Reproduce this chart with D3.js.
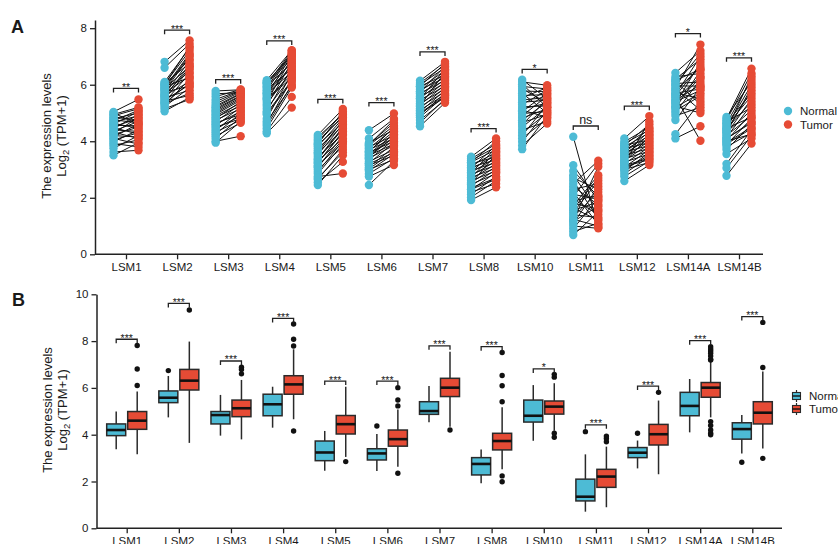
<!DOCTYPE html>
<html>
<head>
<meta charset="utf-8">
<script src="https://cdn.jsdelivr.net/npm/d3@7"></script>
<style>
  body { margin: 0; background: #fff; }
  svg { display: block; }
  text { font-family: "Liberation Sans", Arial, Helvetica, sans-serif; fill: #1a1a1a; }
</style>
</head>
<body>
<svg id="chart" width="838" height="544"></svg>
<script>
// ---- categories ----
const genes = ["LSM1","LSM2","LSM3","LSM4","LSM5","LSM6","LSM7","LSM8","LSM10","LSM11","LSM12","LSM14A","LSM14B"];
const groups = ["Normal", "Tumor"];

// ---- paired samples, log2(TPM+1) (panel A) ----
const pairedNormal = [
  [3.50,3.62,3.75,3.85,3.92,3.98,4.05,4.10,4.15,4.20,4.24,4.28,4.32,4.36,4.40,4.44,4.48,4.52,4.56,4.60,4.64,4.68,4.72,4.76,4.80,4.85,4.90,4.95,5.00,5.04],
  [5.06,5.15,5.22,5.28,5.33,5.38,5.42,5.46,5.50,5.54,5.58,5.62,5.66,5.70,5.74,5.78,5.82,5.86,5.90,5.94,5.98,6.02,6.06,6.10,5.35,5.60,5.85,6.00,6.60,6.81],
  [3.95,4.00,4.10,4.18,4.25,4.32,4.38,4.44,4.50,4.55,4.60,4.65,4.70,4.75,4.80,4.85,4.90,4.95,5.00,5.05,5.10,5.15,5.20,5.25,5.32,5.40,5.48,5.58,5.68,5.78],
  [4.28,4.35,4.45,4.55,4.62,4.70,4.80,4.95,5.05,5.15,5.25,5.32,5.40,5.48,5.55,5.62,5.68,5.74,5.80,5.85,5.90,5.95,6.00,6.05,6.10,6.16,5.00,5.50,5.70,6.08],
  [2.45,2.55,2.65,2.75,2.85,2.92,3.00,3.08,3.15,3.22,3.30,3.38,3.45,3.52,3.60,3.68,3.75,3.82,3.88,3.95,4.02,4.08,4.15,4.22,3.10,3.35,3.58,3.90,2.70,3.25],
  [2.45,2.75,2.85,2.95,3.02,3.08,3.15,3.22,3.28,3.35,3.40,3.45,3.50,3.55,3.60,3.65,3.70,3.75,3.80,3.85,3.90,3.95,4.10,4.39,3.20,3.42,3.62,3.88,3.00,3.52],
  [4.53,4.65,4.75,4.85,4.92,4.98,5.04,5.10,5.16,5.22,5.28,5.34,5.40,5.46,5.52,5.58,5.64,5.70,5.76,5.82,5.88,5.94,6.00,6.06,6.14,5.00,5.25,5.50,5.75,5.95],
  [1.92,2.02,2.12,2.20,2.28,2.35,2.42,2.48,2.54,2.60,2.66,2.72,2.78,2.84,2.90,2.96,3.02,3.08,3.14,3.20,3.26,3.32,3.38,3.45,2.30,2.50,2.70,2.88,3.05,3.25],
  [3.72,3.85,3.98,4.10,4.20,4.30,4.40,4.50,4.58,4.66,4.74,4.82,4.90,4.98,5.06,5.14,5.22,5.30,5.38,5.46,5.54,5.62,5.70,5.78,5.86,5.94,6.02,6.10,6.18,5.10],
  [0.68,0.80,0.90,1.00,1.08,1.16,1.24,1.32,1.40,1.48,1.56,1.64,1.72,1.80,1.88,1.96,2.04,2.12,2.20,2.30,2.40,2.50,2.60,2.70,2.80,2.95,3.15,1.20,1.60,4.16],
  [2.59,2.75,2.85,2.95,3.02,3.08,3.14,3.20,3.26,3.32,3.38,3.44,3.50,3.56,3.62,3.68,3.74,3.80,3.86,3.92,3.98,4.10,3.10,3.30,3.46,3.58,3.70,3.84,3.00,3.22],
  [4.10,4.25,4.75,4.90,5.00,5.08,5.16,5.24,5.32,5.40,5.48,5.56,5.64,5.72,5.80,5.88,5.96,6.04,6.12,6.20,6.28,6.42,5.20,5.45,5.60,5.85,6.00,5.35,5.70,6.15],
  [2.78,3.05,3.20,3.55,3.70,3.80,3.88,3.95,4.02,4.08,4.14,4.20,4.26,4.32,4.38,4.44,4.50,4.56,4.62,4.68,4.74,4.80,4.86,3.90,4.10,4.30,4.46,4.64,4.00,4.40]
];
const pairedTumor = [
  [3.95,3.68,4.20,4.05,3.80,4.40,4.30,3.90,4.62,4.15,4.50,4.85,4.10,4.70,4.35,4.95,4.25,4.80,4.55,5.05,4.45,4.90,5.10,4.65,5.00,4.75,5.15,5.20,4.60,5.48],
  [5.55,5.48,5.90,6.20,5.70,6.40,5.62,6.00,6.55,5.80,6.70,6.10,6.85,6.30,5.95,7.00,6.45,6.65,7.10,6.25,6.90,7.20,6.75,7.30,6.05,6.60,7.05,7.35,7.45,7.57],
  [4.70,4.18,4.85,4.65,5.00,4.75,5.10,4.90,4.80,5.20,5.05,4.95,5.30,5.15,5.40,5.25,5.35,5.45,5.50,5.55,5.60,5.62,5.68,5.70,5.75,5.78,5.80,5.83,5.72,5.82],
  [5.19,5.57,5.90,6.00,6.20,5.95,6.40,6.10,6.60,6.30,6.80,6.50,6.95,6.25,6.70,7.05,6.45,6.85,7.10,6.55,7.15,6.75,7.20,6.90,7.00,7.22,6.15,6.35,6.65,7.08],
  [3.50,3.27,3.70,2.86,3.90,4.00,3.80,4.20,3.95,4.35,4.10,4.50,4.25,4.60,4.40,4.70,4.55,4.80,4.65,4.90,4.85,5.00,4.95,5.14,4.05,4.45,4.75,5.05,3.60,4.30],
  [3.30,3.16,3.40,3.55,3.65,3.80,3.50,3.95,3.70,4.05,3.85,4.15,3.90,4.25,4.00,4.35,4.10,4.45,4.20,4.55,4.65,4.40,4.80,4.98,3.60,4.30,4.50,4.75,3.35,4.12],
  [5.36,5.50,5.45,5.62,5.70,5.55,5.80,5.65,5.90,5.75,6.00,5.85,6.10,5.95,6.20,6.05,6.30,6.15,6.40,6.25,6.50,6.35,6.60,6.70,6.81,5.60,6.45,6.55,6.65,6.75],
  [2.37,2.60,2.75,2.50,2.90,2.70,3.00,2.85,3.10,2.95,3.20,3.05,3.30,3.15,3.40,3.25,3.50,3.35,3.60,3.45,3.70,3.80,3.90,4.10,2.65,3.55,3.65,3.75,3.85,4.00],
  [4.90,4.63,5.10,4.80,5.30,5.00,4.70,5.20,5.50,4.95,5.40,5.15,5.60,5.05,5.70,5.35,5.25,5.80,5.45,5.55,5.90,5.65,5.00,5.75,5.35,5.85,5.20,5.98,5.50,4.85],
  [1.50,1.10,2.00,0.92,2.40,1.70,1.00,2.20,1.30,2.60,1.85,1.20,2.80,1.60,2.10,1.40,3.20,1.95,1.05,2.50,1.75,3.31,1.25,2.30,1.55,2.05,1.90,3.10,2.70,0.95],
  [3.16,3.30,3.45,3.60,3.50,3.70,3.40,3.80,3.55,3.90,3.65,4.00,3.75,4.10,3.85,4.20,3.95,4.30,4.05,4.40,4.50,4.89,3.35,4.15,4.25,4.35,4.45,4.60,3.25,4.70],
  [4.53,5.40,5.90,5.20,6.20,5.60,6.50,5.00,6.80,5.80,6.30,4.02,7.00,5.50,6.60,7.42,5.95,6.10,5.30,6.90,6.40,7.20,5.70,6.00,6.70,5.10,7.10,6.25,5.85,6.55],
  [3.92,4.20,4.40,4.10,4.60,4.30,4.80,4.50,5.00,4.70,5.30,4.90,5.50,5.10,5.80,5.40,6.00,5.60,6.20,5.20,6.40,6.57,6.10,4.45,4.65,5.90,4.85,5.70,4.25,6.30]
];

// ---- box summaries (panel B): [lower whisker, Q1, median, Q3, upper whisker] ----
const boxNormal = [
  [3.38,3.96,4.20,4.46,4.99],[4.74,5.37,5.58,5.87,6.51],[3.96,4.46,4.84,4.99,5.70],[4.30,4.81,5.30,5.73,6.05],
  [2.46,2.89,3.24,3.73,4.16],[2.45,2.92,3.20,3.40,4.03],[4.53,4.87,5.01,5.41,6.08],[1.92,2.28,2.75,3.02,3.37],
  [3.74,4.54,4.81,5.48,6.12],[0.71,1.17,1.35,2.10,3.16],[2.56,3.02,3.23,3.45,3.75],[4.10,4.81,5.23,5.81,6.38],
  [3.20,3.81,4.24,4.51,4.84]
];
const boxTumor = [
  [3.16,4.23,4.60,4.99,5.85],[3.65,5.91,6.31,6.79,7.98],[3.80,4.77,5.13,5.48,6.34],[4.66,5.73,6.15,6.52,7.65],
  [3.05,4.03,4.45,4.82,6.05],[2.63,3.51,3.81,4.20,5.08],[4.34,5.63,6.01,6.41,7.55],[2.52,3.35,3.73,4.06,5.17],
  [4.17,4.88,5.20,5.44,6.20],[0.90,1.75,2.21,2.52,3.49],[2.31,3.56,4.02,4.44,5.46],[4.74,5.60,6.01,6.23,7.13],
  [3.41,4.46,4.94,5.41,6.70]
];
const outNormal = [[],[6.74],[],[],[],[4.37],[],[],[],[4.13],[4.06],[],[2.82]];
const outTumor = [
  [6.10,6.81,7.81],[9.33],[6.60,6.79,6.88],[4.16,7.79,8.08,8.73],[2.85],[2.35,5.23,5.48,6.01],[4.20],
  [1.99,2.24,5.41,6.09,6.53,7.51],[3.89,4.06,6.46,6.58],[3.70,3.84,3.94],[5.81],
  [4.00,4.06,4.20,4.39,4.56,7.19,7.22,7.36,7.48,7.58,7.66,7.76],[2.99,6.87,8.80]
];

// ---- significance annotations ----
const sigA = ["**","***","***","***","***","***","***","***","*","ns","***","*","***"];
const sigALevel = [5.87,7.93,6.18,7.55,5.48,5.37,7.16,4.45,6.54,4.54,5.24,7.81,6.95];
const sigB = ["***","***","***","***","***","***","***","***","*","***","***","***","***"];
const sigBLevel = [8.08,9.61,7.15,8.97,6.29,6.29,7.80,7.76,6.81,4.42,6.08,8.02,9.05];

const ticksA = [0,2,4,6,8];
const ticksB = [0,2,4,6,8,10];

// ---- drawing ----
const color = d3.scaleOrdinal().domain(groups).range(["#4DBBD5", "#E64B35"]);
const ink = "#222";
const svg = d3.select("#chart");

function axisStyle(g) {
  g.selectAll("path.domain").attr("stroke", ink).attr("stroke-width", 1.5);
  g.selectAll(".tick line").attr("stroke", ink).attr("stroke-width", 1.3);
  g.selectAll(".tick text").attr("font-size", 11.5).attr("fill", "#1a1a1a")
    .style("font-family", '"Liberation Sans", Arial, sans-serif');
}

function yLabel(cx, cy) {
  const t = svg.append("g").attr("transform", `translate(${cx},${cy}) rotate(-90)`);
  t.append("text").attr("text-anchor", "middle").attr("font-size", 13).attr("y", 0).text("The expression levels");
  const l2 = t.append("text").attr("text-anchor", "middle").attr("font-size", 13).attr("y", 15);
  l2.append("tspan").text("Log");
  l2.append("tspan").attr("font-size", 9.5).attr("dy", 3).text("2");
  l2.append("tspan").attr("dy", -3).text(" (TPM+1)");
}

function bracket(x1, x2, y, label) {
  svg.append("path")
    .attr("d", `M${x1},${y + 4}V${y}H${x2}V${y + 4}`)
    .attr("fill", "none").attr("stroke", ink).attr("stroke-width", 1.3);
  const isNs = label === "ns";
  svg.append("text").attr("x", (x1 + x2) / 2).attr("y", isNs ? y - 2 : y + 2.5)
    .attr("text-anchor", "middle").attr("font-size", isNs ? 12.5 : 10.5).text(label);
}

// ===== Panel A: paired dots =====
const xA = d3.scalePoint().domain(genes).range([126, 739]);
const yA = d3.scaleLinear().domain([0, 8.29]).range([254.3, 20]);
const dA = 12.5;

svg.append("text").attr("x", 11).attr("y", 33).attr("font-size", 18).attr("font-weight", "bold").text("A");
yLabel(51, 136);

svg.append("g").attr("transform", "translate(95,0)")
  .call(d3.axisLeft(yA).tickValues(ticksA).tickSize(5).tickSizeOuter(0).tickPadding(3))
  .call(axisStyle);
const gxA = svg.append("g").attr("transform", "translate(0,254.3)")
  .call(d3.axisBottom(xA).tickSize(5).tickSizeOuter(0).tickPadding(4))
  .call(axisStyle);
gxA.select("path.domain").remove();
svg.append("line").attr("x1", 95).attr("x2", 763).attr("y1", 254.3).attr("y2", 254.3)
  .attr("stroke", ink).attr("stroke-width", 1.5);

genes.forEach((g, i) => {
  const cx = xA(g);
  const pairs = pairedNormal[i].map((n, j) => [n, pairedTumor[i][j]]);
  svg.append("g").selectAll("line").data(pairs).join("line")
    .attr("x1", cx - dA).attr("x2", cx + dA)
    .attr("y1", d => yA(d[0])).attr("y2", d => yA(d[1]))
    .attr("stroke", "#111").attr("stroke-width", 1);
  svg.append("g").selectAll("circle").data(pairedNormal[i]).join("circle")
    .attr("cx", cx - dA).attr("cy", d => yA(d)).attr("r", 4.2).attr("fill", color("Normal"));
  svg.append("g").selectAll("circle").data(pairedTumor[i]).join("circle")
    .attr("cx", cx + dA).attr("cy", d => yA(d)).attr("r", 4.2).attr("fill", color("Tumor"));
  bracket(cx - dA, cx + dA, yA(sigALevel[i]), sigA[i]);
});

// legend A
groups.forEach((grp, k) => {
  const y = 111 + k * 13.5;
  svg.append("circle").attr("cx", 788).attr("cy", y).attr("r", 4.2).attr("fill", color(grp));
  svg.append("text").attr("x", 800).attr("y", y + 4).attr("font-size", 11.5).text(grp);
});

// ===== Panel B: box plots =====
const xB = d3.scalePoint().domain(genes).range([126.7, 752.3]);
const yB = d3.scaleLinear().domain([0, 10]).range([528.3, 294.3]);
const dB = 10.5, bw = 19;

svg.append("text").attr("x", 12).attr("y", 306).attr("font-size", 18).attr("font-weight", "bold").text("B");
yLabel(52, 410);

svg.append("g").attr("transform", "translate(96.5,0)")
  .call(d3.axisLeft(yB).tickValues(ticksB).tickSize(5).tickSizeOuter(0).tickPadding(3))
  .call(axisStyle);
const gxB = svg.append("g").attr("transform", "translate(0,528.3)")
  .call(d3.axisBottom(xB).tickSize(5).tickSizeOuter(0).tickPadding(4))
  .call(axisStyle);
gxB.select("path.domain").remove();
svg.append("line").attr("x1", 96.5).attr("x2", 782).attr("y1", 528.3).attr("y2", 528.3)
  .attr("stroke", ink).attr("stroke-width", 1.5);

function drawBox(cx, s, outs, fill) {
  const g = svg.append("g");
  g.append("line").attr("x1", cx).attr("x2", cx).attr("y1", yB(s[0])).attr("y2", yB(s[1]))
    .attr("stroke", "#2a2a2a").attr("stroke-width", 1.5);
  g.append("line").attr("x1", cx).attr("x2", cx).attr("y1", yB(s[3])).attr("y2", yB(s[4]))
    .attr("stroke", "#2a2a2a").attr("stroke-width", 1.5);
  g.append("rect").attr("x", cx - bw / 2).attr("width", bw)
    .attr("y", yB(s[3])).attr("height", yB(s[1]) - yB(s[3]))
    .attr("fill", fill).attr("stroke", "#2a2a2a").attr("stroke-width", 1.5);
  g.append("line").attr("x1", cx - bw / 2).attr("x2", cx + bw / 2).attr("y1", yB(s[2])).attr("y2", yB(s[2]))
    .attr("stroke", "#111").attr("stroke-width", 2.6);
  g.selectAll("circle").data(outs).join("circle")
    .attr("cx", cx).attr("cy", d => yB(d)).attr("r", 2.7).attr("fill", "#111");
}

genes.forEach((g, i) => {
  const cx = xB(g);
  drawBox(cx - dB, boxNormal[i], outNormal[i], color("Normal"));
  drawBox(cx + dB, boxTumor[i], outTumor[i], color("Tumor"));
  bracket(cx - dB, cx + dB, yB(sigBLevel[i]), sigB[i]);
});

// legend B
groups.forEach((grp, k) => {
  const y = 396 + k * 13;
  const lg = svg.append("g");
  lg.append("line").attr("x1", 796.5).attr("x2", 796.5).attr("y1", y - 6).attr("y2", y + 6)
    .attr("stroke", "#2a2a2a").attr("stroke-width", 1.2);
  lg.append("rect").attr("x", 792.5).attr("y", y - 3.5).attr("width", 8).attr("height", 7)
    .attr("fill", color(grp)).attr("stroke", "#2a2a2a").attr("stroke-width", 1.1);
  lg.append("line").attr("x1", 792.5).attr("x2", 800.5).attr("y1", y).attr("y2", y)
    .attr("stroke", "#111").attr("stroke-width", 1.4);
  svg.append("text").attr("x", 809).attr("y", y + 4).attr("font-size", 11.5).text(grp);
});
</script>
</body>
</html>
